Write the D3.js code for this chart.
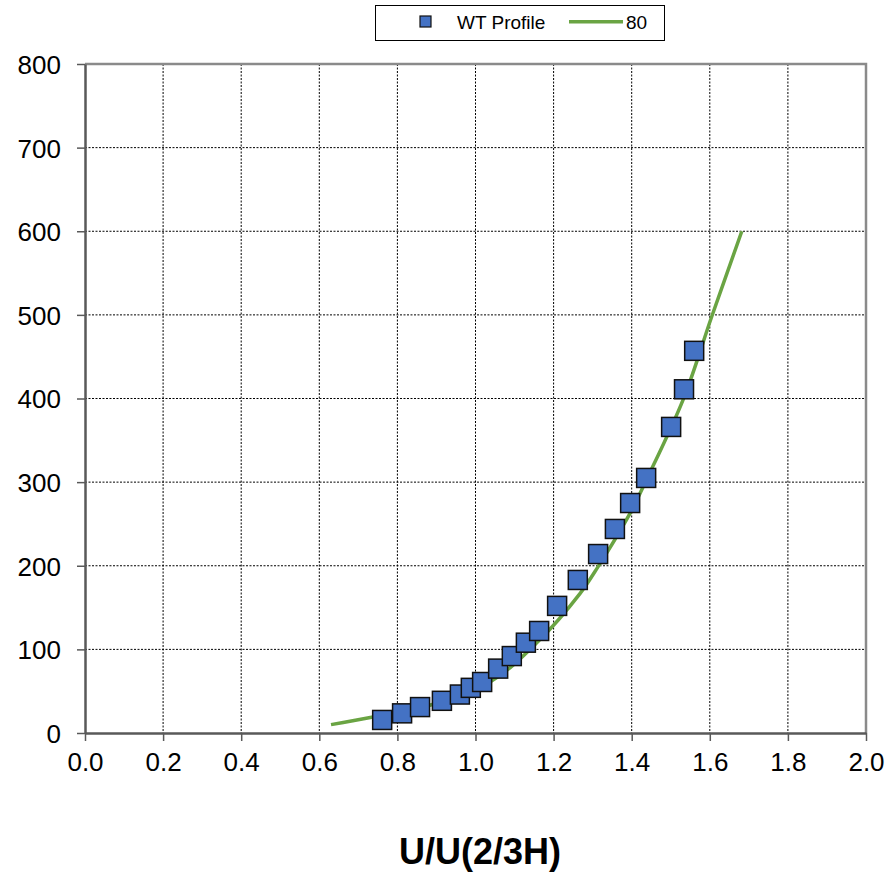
<!DOCTYPE html>
<html><head><meta charset="utf-8">
<script src="https://cdn.jsdelivr.net/npm/d3@7"></script>
<style>body{margin:0;background:#fff}svg{display:block}</style>
</head><body>
<svg id="c" width="890" height="874"></svg>
<script>
// WT Profile measurements: U/U(2/3H) and height
const wtX = [0.761,0.812,0.858,0.914,0.960,0.988,1.017,1.058,1.093,1.129,1.163,1.209,1.262,1.314,1.357,1.396,1.437,1.501,1.534,1.560];
const wtY = [15.6,23.5,31,38.5,46,54,61,77,92,108,122,152,183,214,244,275,305,366,411,457];
// Fitted profile "80"
const fitX = [0.630,0.734,0.885,1.040,1.155,1.268,1.314,1.396,1.438,1.532,1.605,1.682];
const fitY = [10,18.8,33.5,62,107,167,199,263,303,399,498,600];
const xTicks = [0,0.2,0.4,0.6,0.8,1.0,1.2,1.4,1.6,1.8,2.0];
const yTicks = [0,100,200,300,400,500,600,700,800];
const legendLabels = ["WT Profile","80"];
const xTitle = "U/U(2/3H)";

const svg = d3.select("#c");
const L=85,R=866,T=64,B=733;
const x = d3.scaleLinear().domain([0,2]).range([L,R]);
const y = d3.scaleLinear().domain([0,800]).range([B,T]);
const font = "'Liberation Sans', Arial, sans-serif";

// grid
svg.append("g").selectAll("line").data(yTicks.filter(d=>d>0&&d<800)).join("line")
  .attr("x1",L).attr("x2",R).attr("y1",d=>y(d)).attr("y2",d=>y(d))
  .attr("stroke","#000").attr("stroke-width",1).attr("stroke-dasharray","2,1.5");
svg.append("g").selectAll("line").data(xTicks.filter(d=>d>0&&d<2)).join("line")
  .attr("y1",T).attr("y2",B).attr("x1",d=>x(d)).attr("x2",d=>x(d))
  .attr("stroke","#000").attr("stroke-width",1).attr("stroke-dasharray","2,1.5");

// top and right border
svg.append("path").attr("d",`M${L},${T}H${R}V${B}`).attr("fill","none")
  .attr("stroke","#8a8a8a").attr("stroke-width",2.5);

// axes
const xAxis = d3.axisBottom(x).tickValues(xTicks).tickFormat(d3.format(".1f")).tickSizeOuter(0).tickSizeInner(8).tickPadding(8);
const yAxis = d3.axisLeft(y).tickValues(yTicks).tickFormat(d3.format("d")).tickSizeOuter(0).tickSizeInner(8).tickPadding(16);
const gx = svg.append("g").attr("transform",`translate(0,${B})`).call(xAxis);
const gy = svg.append("g").attr("transform",`translate(${L},0)`).call(yAxis);
[gx,gy].forEach(g=>{
  g.select(".domain").attr("stroke","#595959").attr("stroke-width",2.5);
  g.selectAll(".tick line").attr("stroke","#595959").attr("stroke-width",1.5);
  g.selectAll("text").attr("font-family",font).attr("font-size",26).attr("fill","#000");
});
gx.selectAll("text").attr("dy","0.85em");
gy.selectAll("text").attr("dy","0.36em");

// fitted line
const line = d3.line().x(d=>x(d[0])).y(d=>y(d[1])).curve(d3.curveCatmullRom.alpha(0.5));
svg.append("path").datum(fitX.map((v,i)=>[v,fitY[i]])).attr("d",line)
  .attr("fill","none").attr("stroke","#6aa443").attr("stroke-width",3.5);

// markers
const s=19;
svg.append("g").selectAll("rect").data(wtX.map((v,i)=>[v,wtY[i]])).join("rect")
  .attr("x",d=>x(d[0])-s/2).attr("y",d=>y(d[1])-s/2).attr("width",s).attr("height",s)
  .attr("fill","#4472c4").attr("stroke","#111").attr("stroke-width",1.5);

// legend
const lg = svg.append("g");
lg.append("rect").attr("x",375.5).attr("y",5.5).attr("width",289).attr("height",35)
  .attr("fill","#fff").attr("stroke","#000").attr("stroke-width",1);
lg.append("rect").attr("x",420).attr("y",16).attr("width",11).attr("height",11)
  .attr("fill","#4472c4").attr("stroke","#111").attr("stroke-width",1.2);
lg.append("text").attr("x",457).attr("y",28.5).text(legendLabels[0])
  .attr("font-family",font).attr("font-size",19);
lg.append("line").attr("x1",569).attr("x2",623).attr("y1",21.7).attr("y2",21.7)
  .attr("stroke","#6aa443").attr("stroke-width",3.5);
lg.append("text").attr("x",626).attr("y",28.5).text(legendLabels[1])
  .attr("font-family",font).attr("font-size",19);

// x title
svg.append("text").attr("x",480).attr("y",864).attr("text-anchor","middle")
  .attr("font-family",font).attr("font-weight","bold").attr("font-size",36).text(xTitle);
</script>
</body></html>
